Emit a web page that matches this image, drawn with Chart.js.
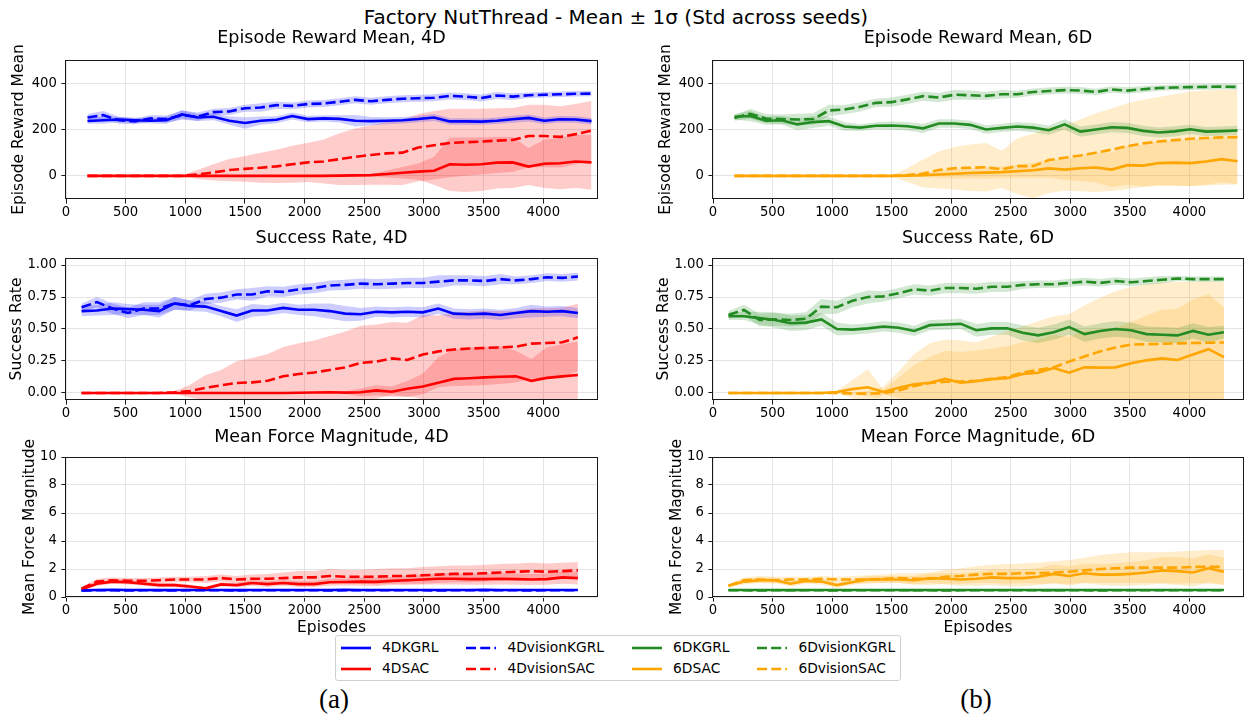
<!DOCTYPE html>
<html>
<head>
<meta charset="utf-8">
<title>Factory NutThread</title>
<script src="https://cdn.jsdelivr.net/npm/chart.js@4.4.1/dist/chart.umd.min.js"></script>
<style>
  body { margin: 0; background: #fff; }
  #page { position: relative; width: 1252px; height: 718px; font-family: 'DejaVu Sans', sans-serif; color: #000; overflow: hidden; }
  #page canvas { position: absolute; }
  #suptitle { position: absolute; left: 0; top: 5px; width: 1232px; text-align: center; font-size: 20px; line-height: 24px; }
  #legend {
    position: absolute; left: 335px; top: 635px;
    border: 1px solid #d0d0d0; border-radius: 3px; background: #fff;
    padding: 1px 5px;
    display: grid; grid-template-rows: 21px 21px; grid-auto-flow: column; column-gap: 28px;
    font-size: 13.8px; line-height: 21px;
  }
  #legend .item { display: flex; align-items: center; white-space: nowrap; }
  #legend svg { margin-right: 11px; }
  .tag { position: absolute; top: 699px; transform: translate(-50%, -50%); font-family: 'Liberation Serif', serif; font-size: 27px; }
</style>
</head>
<body>
<div id="page">
  <div id="suptitle">Factory NutThread - Mean ± 1σ (Std across seeds)</div>
  <canvas id="rewardLeft"></canvas>
  <canvas id="rewardRight"></canvas>
  <canvas id="successLeft"></canvas>
  <canvas id="successRight"></canvas>
  <canvas id="forceLeft"></canvas>
  <canvas id="forceRight"></canvas>
  <div id="legend"></div>
  <div class="tag" style="left:334px">(a)</div>
  <div class="tag" style="left:976px">(b)</div>
</div>
<script>
// x positions (episodes) of the logged points
const rewardEpisodes = [180, 312, 444, 576, 708, 840, 972, 1104, 1236, 1368, 1500, 1632, 1764, 1896, 2028, 2160, 2292, 2424, 2556, 2688, 2820, 2952, 3084, 3216, 3348, 3480, 3612, 3744, 3876, 4008, 4140, 4272, 4404];
const stepEpisodes = [130, 260, 390, 520, 650, 780, 910, 1040, 1170, 1300, 1430, 1560, 1690, 1820, 1950, 2080, 2210, 2340, 2470, 2600, 2730, 2860, 2990, 3120, 3250, 3380, 3510, 3640, 3770, 3900, 4030, 4160, 4290];

// tick values
const episodeTicks = [0, 500, 1000, 1500, 2000, 2500, 3000, 3500, 4000];
const rewardTicks = [0, 200, 400];
const successTicks = [0, 0.25, 0.5, 0.75, 1];
const forceTicks = [0, 2, 4, 6, 8, 10];

// Episode reward mean, 4D
const rew4DKGRL = [237, 240, 243, 240, 238, 240, 265, 252, 255, 238, 228, 238, 242, 258, 245, 248, 246, 238, 236, 238, 240, 245, 252, 235, 235, 234, 238, 244, 250, 238, 244, 243, 236];
const rew4DKGRLStd = [12, 15, 12, 12, 12, 15, 18, 15, 15, 18, 25, 18, 15, 15, 14, 14, 16, 25, 18, 15, 14, 14, 15, 14, 14, 14, 14, 15, 15, 14, 14, 14, 14];
const rew4DSAC = [0, 0, 0, 0, 0, 0, 0, 0, 0, 0, 0, 0, 0, 0, 0, 0, 1, 2, 3, 8, 13, 18, 22, 50, 48, 50, 57, 58, 40, 52, 54, 62, 58];
const rew4DSACStd = [0, 0, 0, 0, 0, 0, 0, 0, 0, 0, 2, 2, 3, 3, 4, 5, 5, 6, 5, 15, 25, 35, 60, 115, 118, 115, 112, 110, 80, 105, 112, 115, 118];
const rew4DvisionKGRL = [252, 262, 240, 235, 248, 245, 262, 255, 275, 278, 292, 295, 305, 302, 310, 312, 320, 328, 322, 328, 333, 335, 337, 345, 342, 336, 347, 342, 348, 350, 352, 354, 355];
const rew4DvisionKGRLStd = [15, 18, 15, 12, 15, 15, 20, 18, 15, 15, 15, 18, 16, 15, 15, 15, 15, 15, 15, 15, 15, 15, 15, 15, 15, 15, 15, 15, 12, 12, 12, 12, 12];
const rew4DvisionSAC = [0, 0, 0, 0, 0, 0, 0, 6, 15, 25, 30, 35, 41, 50, 58, 62, 72, 82, 90, 97, 100, 122, 132, 142, 145, 148, 152, 155, 172, 172, 168, 180, 195];
const rew4DvisionSACStd = [0, 0, 0, 0, 0, 0, 2, 20, 35, 48, 56, 65, 72, 80, 85, 95, 112, 122, 128, 135, 140, 145, 148, 148, 145, 142, 140, 138, 135, 135, 132, 130, 128];

// Episode reward mean, 6D
const rew6DKGRL = [255, 258, 238, 240, 222, 232, 236, 213, 208, 216, 217, 214, 205, 226, 226, 220, 200, 207, 213, 208, 197, 222, 191, 200, 210, 207, 194, 187, 192, 201, 191, 193, 196];
const rew6DKGRLStd = [12, 22, 18, 18, 25, 25, 20, 18, 15, 15, 18, 18, 20, 18, 18, 18, 18, 18, 18, 20, 20, 22, 22, 22, 22, 22, 22, 22, 22, 20, 20, 20, 20];
const rew6DSAC = [0, 0, 0, 0, 0, 0, 0, 0, 0, 0, 0, 1, 3, 6, 9, 12, 14, 16, 20, 24, 32, 27, 33, 36, 27, 46, 44, 55, 57, 55, 62, 72, 63];
const rew6DSACStd = [0, 0, 0, 0, 0, 0, 0, 0, 0, 0, 0, 3, 8, 15, 20, 22, 25, 25, 28, 32, 40, 45, 55, 65, 75, 85, 90, 95, 98, 100, 100, 100, 98];
const rew6DvisionKGRL = [250, 268, 247, 245, 243, 245, 282, 286, 298, 315, 318, 330, 344, 338, 350, 348, 345, 352, 352, 362, 366, 370, 368, 362, 373, 368, 374, 379, 381, 383, 384, 385, 384];
const rew6DvisionKGRLStd = [12, 22, 20, 20, 25, 25, 25, 20, 20, 18, 20, 20, 20, 20, 22, 20, 18, 18, 15, 15, 15, 15, 15, 14, 14, 14, 14, 12, 12, 12, 12, 12, 12];
const rew6DvisionSAC = [0, 0, 0, 0, 0, 0, 0, 0, 0, 0, 0, 3, 10, 25, 33, 35, 37, 28, 42, 42, 68, 78, 88, 100, 113, 128, 140, 148, 154, 160, 163, 166, 167];
const rew6DvisionSACStd = [0, 0, 0, 0, 0, 0, 0, 0, 0, 0, 3, 30, 60, 80, 92, 100, 105, 80, 120, 140, 142, 142, 155, 170, 178, 185, 188, 192, 198, 204, 205, 205, 204];

// Success rate, 4D
const suc4DKGRL = [0.64, 0.645, 0.66, 0.655, 0.65, 0.64, 0.70, 0.68, 0.675, 0.64, 0.605, 0.645, 0.645, 0.665, 0.65, 0.65, 0.64, 0.62, 0.615, 0.635, 0.63, 0.635, 0.63, 0.66, 0.62, 0.615, 0.62, 0.61, 0.625, 0.64, 0.635, 0.64, 0.625];
const suc4DKGRLStd = [0.04, 0.04, 0.05, 0.04, 0.04, 0.05, 0.05, 0.04, 0.04, 0.04, 0.05, 0.05, 0.04, 0.04, 0.04, 0.05, 0.06, 0.06, 0.05, 0.04, 0.04, 0.04, 0.04, 0.04, 0.04, 0.04, 0.04, 0.04, 0.04, 0.05, 0.04, 0.04, 0.04];
const suc4DSAC = [0, 0, 0, 0, 0, 0, 0, 0, 0, 0, 0, 0, 0, 0, 0.002, 0.004, 0.005, 0.003, 0.005, 0.02, 0.01, 0.033, 0.05, 0.08, 0.11, 0.115, 0.122, 0.127, 0.13, 0.095, 0.118, 0.13, 0.14];
const suc4DSACStd = [0, 0, 0, 0, 0, 0, 0, 0, 0, 0, 0, 0, 0, 0, 0.003, 0.005, 0.008, 0.01, 0.03, 0.04, 0.04, 0.06, 0.1, 0.2, 0.23, 0.24, 0.24, 0.24, 0.2, 0.17, 0.24, 0.25, 0.26];
const suc4DvisionKGRL = [0.67, 0.71, 0.66, 0.625, 0.66, 0.66, 0.70, 0.685, 0.735, 0.745, 0.77, 0.77, 0.795, 0.79, 0.81, 0.82, 0.84, 0.845, 0.855, 0.85, 0.855, 0.86, 0.86, 0.87, 0.88, 0.88, 0.875, 0.89, 0.88, 0.89, 0.905, 0.9, 0.91];
const suc4DvisionKGRLStd = [0.03, 0.04, 0.04, 0.04, 0.05, 0.05, 0.05, 0.04, 0.04, 0.04, 0.04, 0.05, 0.04, 0.04, 0.04, 0.04, 0.04, 0.04, 0.04, 0.04, 0.04, 0.04, 0.04, 0.05, 0.04, 0.04, 0.04, 0.04, 0.03, 0.03, 0.03, 0.03, 0.03];
const suc4DvisionSAC = [0, 0, 0, 0, 0, 0, 0.005, 0.015, 0.04, 0.06, 0.078, 0.083, 0.095, 0.13, 0.148, 0.16, 0.18, 0.2, 0.235, 0.245, 0.27, 0.258, 0.3, 0.325, 0.34, 0.347, 0.352, 0.356, 0.362, 0.386, 0.39, 0.396, 0.435];
const suc4DvisionSACStd = [0, 0, 0, 0, 0, 0, 0.01, 0.05, 0.1, 0.12, 0.17, 0.19, 0.21, 0.23, 0.24, 0.25, 0.265, 0.28, 0.29, 0.29, 0.285, 0.29, 0.31, 0.28, 0.285, 0.29, 0.29, 0.285, 0.28, 0.275, 0.275, 0.27, 0.265];

// Success rate, 6D
const suc6DKGRL = [0.60, 0.60, 0.585, 0.57, 0.545, 0.55, 0.575, 0.50, 0.495, 0.505, 0.52, 0.51, 0.485, 0.53, 0.535, 0.54, 0.49, 0.505, 0.505, 0.47, 0.45, 0.475, 0.515, 0.46, 0.485, 0.50, 0.49, 0.46, 0.455, 0.45, 0.485, 0.455, 0.475];
const suc6DKGRLStd = [0.03, 0.03, 0.05, 0.06, 0.06, 0.06, 0.05, 0.05, 0.04, 0.04, 0.04, 0.04, 0.04, 0.04, 0.04, 0.04, 0.05, 0.05, 0.05, 0.06, 0.06, 0.06, 0.06, 0.06, 0.06, 0.06, 0.06, 0.06, 0.06, 0.06, 0.06, 0.06, 0.05];
const suc6DSAC = [0, 0, 0, 0, 0, 0, 0, 0.008, 0.03, 0.045, 0.008, 0.04, 0.068, 0.08, 0.11, 0.08, 0.092, 0.108, 0.115, 0.148, 0.158, 0.195, 0.158, 0.2, 0.198, 0.2, 0.232, 0.255, 0.27, 0.258, 0.3, 0.342, 0.28];
const suc6DSACStd = [0, 0, 0, 0, 0, 0, 0, 0.01, 0.07, 0.14, 0.02, 0.08, 0.15, 0.2, 0.22, 0.24, 0.24, 0.24, 0.25, 0.25, 0.26, 0.26, 0.28, 0.29, 0.3, 0.31, 0.32, 0.35, 0.38, 0.4, 0.43, 0.43, 0.39];
const suc6DvisionKGRL = [0.61, 0.65, 0.57, 0.575, 0.57, 0.58, 0.675, 0.67, 0.72, 0.75, 0.755, 0.78, 0.81, 0.80, 0.82, 0.82, 0.815, 0.83, 0.83, 0.845, 0.85, 0.85, 0.86, 0.87, 0.86, 0.875, 0.865, 0.875, 0.885, 0.895, 0.89, 0.89, 0.89];
const suc6DvisionKGRLStd = [0.03, 0.04, 0.05, 0.05, 0.05, 0.05, 0.06, 0.05, 0.05, 0.05, 0.04, 0.04, 0.04, 0.04, 0.04, 0.04, 0.04, 0.04, 0.04, 0.03, 0.03, 0.03, 0.03, 0.03, 0.03, 0.03, 0.03, 0.03, 0.03, 0.02, 0.02, 0.02, 0.02];
const suc6DvisionSAC = [0, 0, 0, 0, 0, 0, 0, 0, -0.004, -0.005, -0.002, 0.02, 0.055, 0.078, 0.088, 0.09, 0.095, 0.11, 0.125, 0.16, 0.18, 0.2, 0.245, 0.285, 0.325, 0.355, 0.378, 0.381, 0.384, 0.388, 0.39, 0.393, 0.395];
const suc6DvisionSACStd = [0, 0, 0, 0, 0, 0, 0, 0, 0.01, 0.02, 0.05, 0.15, 0.25, 0.31, 0.33, 0.32, 0.3, 0.33, 0.36, 0.36, 0.38, 0.4, 0.37, 0.4, 0.42, 0.44, 0.45, 0.47, 0.48, 0.48, 0.48, 0.48, 0.475];

// Mean force magnitude, 4D
const frc4DKGRL = [0.47, 0.5, 0.51, 0.5, 0.5, 0.49, 0.5, 0.5, 0.5, 0.5, 0.49, 0.5, 0.5, 0.5, 0.5, 0.5, 0.5, 0.51, 0.5, 0.5, 0.5, 0.5, 0.5, 0.5, 0.5, 0.5, 0.51, 0.5, 0.5, 0.5, 0.5, 0.5, 0.5];
const frc4DKGRLStd = [0.04, 0.04, 0.04, 0.04, 0.04, 0.04, 0.04, 0.04, 0.04, 0.04, 0.04, 0.04, 0.04, 0.04, 0.04, 0.04, 0.04, 0.04, 0.04, 0.04, 0.04, 0.04, 0.04, 0.04, 0.04, 0.04, 0.04, 0.04, 0.04, 0.04, 0.04, 0.04, 0.04];
const frc4DSAC = [0.55, 0.95, 1.1, 1.05, 0.95, 0.85, 0.85, 0.75, 0.62, 0.9, 0.85, 1.0, 0.92, 1.0, 0.92, 0.92, 1.05, 1.07, 1.1, 1.08, 1.15, 1.2, 1.25, 1.3, 1.3, 1.28, 1.28, 1.3, 1.28, 1.25, 1.28, 1.4, 1.35];
const frc4DSACStd = [0.1, 0.15, 0.15, 0.15, 0.15, 0.15, 0.15, 0.15, 0.1, 0.15, 0.15, 0.2, 0.2, 0.2, 0.2, 0.2, 0.25, 0.25, 0.3, 0.3, 0.3, 0.35, 0.35, 0.4, 0.4, 0.4, 0.4, 0.4, 0.4, 0.4, 0.4, 0.45, 0.45];
const frc4DvisionKGRL = [0.46, 0.48, 0.48, 0.47, 0.48, 0.48, 0.47, 0.48, 0.48, 0.48, 0.47, 0.48, 0.48, 0.48, 0.48, 0.48, 0.47, 0.48, 0.48, 0.48, 0.48, 0.48, 0.48, 0.47, 0.48, 0.48, 0.48, 0.48, 0.48, 0.47, 0.48, 0.48, 0.48];
const frc4DvisionKGRLStd = [0.04, 0.04, 0.04, 0.04, 0.04, 0.04, 0.04, 0.04, 0.04, 0.04, 0.04, 0.04, 0.04, 0.04, 0.04, 0.04, 0.04, 0.04, 0.04, 0.04, 0.04, 0.04, 0.04, 0.04, 0.04, 0.04, 0.04, 0.04, 0.04, 0.04, 0.04, 0.04, 0.04];
const frc4DvisionSAC = [0.6, 1.1, 1.2, 1.15, 1.15, 1.2, 1.25, 1.25, 1.25, 1.35, 1.25, 1.3, 1.3, 1.35, 1.4, 1.4, 1.5, 1.45, 1.45, 1.45, 1.5, 1.5, 1.55, 1.6, 1.65, 1.65, 1.7, 1.75, 1.8, 1.85, 1.8, 1.85, 1.9];
const frc4DvisionSACStd = [0.1, 0.2, 0.2, 0.2, 0.2, 0.2, 0.2, 0.2, 0.25, 0.25, 0.25, 0.3, 0.35, 0.4, 0.45, 0.45, 0.5, 0.5, 0.5, 0.55, 0.55, 0.55, 0.6, 0.6, 0.6, 0.6, 0.6, 0.6, 0.6, 0.6, 0.6, 0.6, 0.6];

// Mean force magnitude, 6D
const frc6DKGRL = [0.5, 0.5, 0.5, 0.5, 0.49, 0.5, 0.5, 0.5, 0.5, 0.5, 0.5, 0.5, 0.49, 0.5, 0.5, 0.5, 0.5, 0.5, 0.5, 0.5, 0.5, 0.49, 0.5, 0.5, 0.5, 0.5, 0.5, 0.5, 0.5, 0.5, 0.5, 0.5, 0.5];
const frc6DKGRLStd = [0.04, 0.04, 0.04, 0.04, 0.04, 0.04, 0.04, 0.04, 0.04, 0.04, 0.04, 0.04, 0.04, 0.04, 0.04, 0.04, 0.04, 0.04, 0.04, 0.04, 0.04, 0.04, 0.04, 0.04, 0.04, 0.04, 0.04, 0.04, 0.04, 0.04, 0.04, 0.04, 0.04];
const frc6DSAC = [0.8, 1.1, 1.2, 1.2, 0.95, 1.15, 1.1, 0.85, 1.05, 1.25, 1.25, 1.25, 1.2, 1.35, 1.3, 1.25, 1.3, 1.4, 1.35, 1.35, 1.45, 1.65, 1.5, 1.7, 1.6, 1.6, 1.65, 1.75, 1.9, 1.85, 1.75, 2.05, 1.8];
const frc6DSACStd = [0.1, 0.2, 0.2, 0.2, 0.2, 0.2, 0.2, 0.2, 0.2, 0.25, 0.25, 0.25, 0.3, 0.35, 0.4, 0.45, 0.5, 0.55, 0.6, 0.6, 0.6, 0.65, 0.7, 0.7, 0.75, 0.8, 0.85, 0.9, 0.95, 1.0, 1.0, 1.0, 1.0];
const frc6DvisionKGRL = [0.48, 0.48, 0.47, 0.48, 0.48, 0.48, 0.48, 0.47, 0.48, 0.48, 0.48, 0.48, 0.48, 0.48, 0.47, 0.48, 0.48, 0.48, 0.48, 0.48, 0.48, 0.48, 0.48, 0.48, 0.47, 0.48, 0.48, 0.48, 0.48, 0.48, 0.48, 0.48, 0.48];
const frc6DvisionKGRLStd = [0.04, 0.04, 0.04, 0.04, 0.04, 0.04, 0.04, 0.04, 0.04, 0.04, 0.04, 0.04, 0.04, 0.04, 0.04, 0.04, 0.04, 0.04, 0.04, 0.04, 0.04, 0.04, 0.04, 0.04, 0.04, 0.04, 0.04, 0.04, 0.04, 0.04, 0.04, 0.04, 0.04];
const frc6DvisionSAC = [0.8, 1.2, 1.25, 1.2, 1.25, 1.25, 1.3, 1.25, 1.25, 1.25, 1.3, 1.35, 1.3, 1.3, 1.45, 1.5, 1.6, 1.65, 1.65, 1.7, 1.7, 1.75, 1.8, 1.9, 2.0, 2.05, 2.1, 2.1, 2.1, 2.1, 2.15, 2.15, 2.15];
const frc6DvisionSACStd = [0.1, 0.2, 0.25, 0.25, 0.2, 0.2, 0.2, 0.2, 0.25, 0.3, 0.3, 0.35, 0.4, 0.45, 0.5, 0.55, 0.6, 0.65, 0.7, 0.7, 0.75, 0.8, 0.85, 0.9, 1.0, 1.05, 1.1, 1.1, 1.1, 1.15, 1.15, 1.2, 1.2];

// line styles per run
const styles = {
  '4DKGRL':       { color: '#0000ff', dashed: false },
  '4DSAC':        { color: '#ff0000', dashed: false },
  '4DvisionKGRL': { color: '#0000ff', dashed: true },
  '4DvisionSAC':  { color: '#ff0000', dashed: true },
  '6DKGRL':       { color: '#228b22', dashed: false },
  '6DSAC':        { color: '#ffa500', dashed: false },
  '6DvisionKGRL': { color: '#228b22', dashed: true },
  '6DvisionSAC':  { color: '#ffa500', dashed: true }
};
const LINE_WIDTH = 2.6;
const DASH = [10, 4.2];
const FONT = 'DejaVu Sans';

function rgba(hex, a) {
  const n = parseInt(hex.slice(1), 16);
  return `rgba(${(n >> 16) & 255}, ${(n >> 8) & 255}, ${n & 255}, ${a})`;
}

// shaded ±1σ bands first, mean lines on top
function buildDatasets(episodes, series) {
  const bands = [];
  const lines = [];
  series.forEach(s => {
    const st = styles[s.label];
    bands.push({
      label: s.label + ' upper',
      data: episodes.map((x, i) => ({ x: x, y: s.mean[i] + s.std[i] })),
      borderWidth: 0, borderColor: 'rgba(0,0,0,0)', pointRadius: 0,
      backgroundColor: rgba(st.color, 0.2), fill: '+1', order: 2
    });
    bands.push({
      label: s.label + ' lower',
      data: episodes.map((x, i) => ({ x: x, y: s.mean[i] - s.std[i] })),
      borderWidth: 0, borderColor: 'rgba(0,0,0,0)', pointRadius: 0,
      fill: false, order: 2
    });
    lines.push({
      label: s.label,
      data: episodes.map((x, i) => ({ x: x, y: s.mean[i] })),
      borderColor: st.color, borderWidth: LINE_WIDTH,
      borderDash: st.dashed ? DASH : [],
      pointRadius: 0, fill: false, order: 1, tension: 0
    });
  });
  return bands.concat(lines.reverse());
}

// black frame around the plotting area
const frame = {
  id: 'frame',
  afterDatasetsDraw(chart) {
    const { ctx, chartArea: a } = chart;
    ctx.save();
    ctx.strokeStyle = '#1a1a1a';
    ctx.lineWidth = 1;
    ctx.strokeRect(Math.round(a.left) - 0.5, Math.round(a.top) + 0.5, Math.round(a.right - a.left) + 1, Math.round(a.bottom - a.top) - 1);
    ctx.restore();
  }
};

const columns = [
  { left: 0, width: 600, axisWidth: 66, padRight: 3 },
  { left: 640, width: 612, axisWidth: 73, padRight: 9 }
];
const rows = [
  { top: 28, height: 193, titleGap: 11, xHeight: 22, labelOffset: 47 },
  { top: 228, height: 194, titleGap: 9, xHeight: 22, labelOffset: 49 },
  { top: 427, height: 210, titleGap: 9, xHeight: 40, labelOffset: 36 }
];

function makePanel(p) {
  const col = columns[p.col];
  const row = rows[p.row];
  const canvas = document.getElementById(p.id);
  canvas.width = col.width;
  canvas.height = row.height;
  canvas.style.left = col.left + 'px';
  canvas.style.top = row.top + 'px';
  const labelLine = 15.5 * 1.2;

  new Chart(canvas, {
    type: 'line',
    data: { datasets: buildDatasets(p.episodes, p.series) },
    options: {
      responsive: false,
      animation: false,
      devicePixelRatio: 1,
      events: [],
      layout: { padding: { left: 0, right: col.padRight, top: 0, bottom: 0 }, autoPadding: false },
      plugins: {
        legend: { display: false },
        tooltip: { enabled: false },
        title: {
          display: true, text: p.title, fullSize: false, color: '#000',
          font: { family: FONT, size: 17.5, weight: 'normal', lineHeight: 1.2 },
          padding: { top: 0, bottom: row.titleGap }
        }
      },
      scales: {
        x: {
          type: 'linear', min: 0, max: 4450,
          afterBuildTicks: s => { s.ticks = episodeTicks.map(v => ({ value: v })); },
          afterFit: s => { s.height = row.xHeight; },
          border: { display: false },
          grid: { color: '#e4e4e4', lineWidth: 1, tickColor: '#1a1a1a', tickLength: 4.6, tickWidth: 1 },
          ticks: {
            autoSkip: false, maxRotation: 0, padding: 1, color: '#000',
            font: { family: FONT, size: 13.2, lineHeight: 1.2 },
            callback: v => String(v)
          },
          title: {
            display: p.row === 2, text: 'Episodes', color: '#000',
            font: { family: FONT, size: 15.5, lineHeight: 1.2 }, padding: { top: 0, bottom: 0 }
          }
        },
        y: {
          type: 'linear', min: p.yMin, max: p.yMax,
          afterBuildTicks: s => { s.ticks = p.yTicks.map(v => ({ value: v })); },
          afterFit: s => { s.width = col.axisWidth; },
          border: { display: false },
          grid: { color: '#e4e4e4', lineWidth: 1, tickColor: '#1a1a1a', tickLength: 4.6, tickWidth: 1 },
          ticks: { autoSkip: false, padding: 4.6, color: '#000', font: { family: FONT, size: 13.2 }, callback: p.format },
          title: {
            display: true, text: p.yLabel, color: '#000',
            font: { family: FONT, size: 15.5, lineHeight: 1.2 },
            padding: { top: col.axisWidth - row.labelOffset - labelLine / 2, bottom: 0 }
          }
        }
      }
    },
    plugins: [frame]
  });
}

const asInt = v => String(v);
const asRate = v => v.toFixed(2);

const panels = [
  { id: 'rewardLeft', col: 0, row: 0, title: 'Episode Reward Mean, 4D', yLabel: 'Episode Reward Mean',
    episodes: rewardEpisodes, yMin: -100, yMax: 500, yTicks: rewardTicks, format: asInt,
    series: [
      { label: '4DKGRL', mean: rew4DKGRL, std: rew4DKGRLStd },
      { label: '4DSAC', mean: rew4DSAC, std: rew4DSACStd },
      { label: '4DvisionKGRL', mean: rew4DvisionKGRL, std: rew4DvisionKGRLStd },
      { label: '4DvisionSAC', mean: rew4DvisionSAC, std: rew4DvisionSACStd }
    ] },
  { id: 'rewardRight', col: 1, row: 0, title: 'Episode Reward Mean, 6D', yLabel: 'Episode Reward Mean',
    episodes: rewardEpisodes, yMin: -100, yMax: 500, yTicks: rewardTicks, format: asInt,
    series: [
      { label: '6DKGRL', mean: rew6DKGRL, std: rew6DKGRLStd },
      { label: '6DSAC', mean: rew6DSAC, std: rew6DSACStd },
      { label: '6DvisionKGRL', mean: rew6DvisionKGRL, std: rew6DvisionKGRLStd },
      { label: '6DvisionSAC', mean: rew6DvisionSAC, std: rew6DvisionSACStd }
    ] },
  { id: 'successLeft', col: 0, row: 1, title: 'Success Rate, 4D', yLabel: 'Success Rate',
    episodes: stepEpisodes, yMin: -0.055, yMax: 1.055, yTicks: successTicks, format: asRate,
    series: [
      { label: '4DKGRL', mean: suc4DKGRL, std: suc4DKGRLStd },
      { label: '4DSAC', mean: suc4DSAC, std: suc4DSACStd },
      { label: '4DvisionKGRL', mean: suc4DvisionKGRL, std: suc4DvisionKGRLStd },
      { label: '4DvisionSAC', mean: suc4DvisionSAC, std: suc4DvisionSACStd }
    ] },
  { id: 'successRight', col: 1, row: 1, title: 'Success Rate, 6D', yLabel: 'Success Rate',
    episodes: stepEpisodes, yMin: -0.055, yMax: 1.055, yTicks: successTicks, format: asRate,
    series: [
      { label: '6DKGRL', mean: suc6DKGRL, std: suc6DKGRLStd },
      { label: '6DSAC', mean: suc6DSAC, std: suc6DSACStd },
      { label: '6DvisionKGRL', mean: suc6DvisionKGRL, std: suc6DvisionKGRLStd },
      { label: '6DvisionSAC', mean: suc6DvisionSAC, std: suc6DvisionSACStd }
    ] },
  { id: 'forceLeft', col: 0, row: 2, title: 'Mean Force Magnitude, 4D', yLabel: 'Mean Force Magnitude',
    episodes: stepEpisodes, yMin: 0, yMax: 10, yTicks: forceTicks, format: asInt,
    series: [
      { label: '4DKGRL', mean: frc4DKGRL, std: frc4DKGRLStd },
      { label: '4DSAC', mean: frc4DSAC, std: frc4DSACStd },
      { label: '4DvisionKGRL', mean: frc4DvisionKGRL, std: frc4DvisionKGRLStd },
      { label: '4DvisionSAC', mean: frc4DvisionSAC, std: frc4DvisionSACStd }
    ] },
  { id: 'forceRight', col: 1, row: 2, title: 'Mean Force Magnitude, 6D', yLabel: 'Mean Force Magnitude',
    episodes: stepEpisodes, yMin: 0, yMax: 10, yTicks: forceTicks, format: asInt,
    series: [
      { label: '6DKGRL', mean: frc6DKGRL, std: frc6DKGRLStd },
      { label: '6DSAC', mean: frc6DSAC, std: frc6DSACStd },
      { label: '6DvisionKGRL', mean: frc6DvisionKGRL, std: frc6DvisionKGRLStd },
      { label: '6DvisionSAC', mean: frc6DvisionSAC, std: frc6DvisionSACStd }
    ] }
];

panels.forEach(makePanel);

// shared legend below the panels, filled column by column
const legendOrder = ['4DKGRL', '4DSAC', '4DvisionKGRL', '4DvisionSAC', '6DKGRL', '6DSAC', '6DvisionKGRL', '6DvisionSAC'];
const legend = document.getElementById('legend');
legendOrder.forEach(name => {
  const st = styles[name];
  const item = document.createElement('div');
  item.className = 'item';
  item.innerHTML =
    `<svg width="30" height="10"><line x1="0" y1="5" x2="30" y2="5" stroke="${st.color}" stroke-width="${LINE_WIDTH}"` +
    (st.dashed ? ` stroke-dasharray="${DASH.join(' ')}"` : '') + `/></svg><span>${name}</span>`;
  legend.appendChild(item);
});
</script>
</body>
</html>
